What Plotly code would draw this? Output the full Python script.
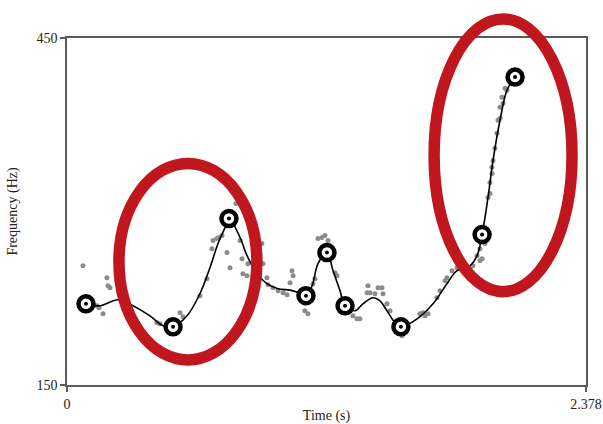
import plotly.graph_objects as go

# Axis settings
T_MAX = 2.378
F_MIN, F_MAX = 150, 450
x_tickvals = [0, 2.378]
x_ticktext = ["0", "2.378"]
y_tickvals = [150, 450]
y_ticktext = ["150", "450"]

# Raw pitch samples (gray dots)
raw_t = [0.073, 0.137, 0.147, 0.165, 0.183, 0.188, 0.197, 0.412, 0.426, 0.518, 0.532,
         0.609, 0.641, 0.664, 0.669, 0.687, 0.696, 0.710, 0.733, 0.747, 0.774, 0.793,
         0.802, 0.806, 0.825, 0.829, 0.893, 0.898, 0.916, 0.921, 0.944, 0.967, 0.990,
         1.008, 1.031, 1.036, 1.022, 1.090, 1.104, 1.127, 1.136, 1.150, 1.168, 1.182,
         1.196, 1.228, 1.237, 1.310, 1.329, 1.342, 1.379, 1.375, 1.388, 1.411, 1.425,
         1.443, 1.448, 1.466, 1.480, 1.535, 1.617, 1.631, 1.640, 1.654, 1.695, 1.709,
         1.732, 1.741, 1.764, 1.787, 1.847, 1.860, 1.879, 1.892, 1.906, 1.892, 1.902,
         1.915, 1.929, 1.938, 1.938, 1.947, 1.947, 1.952, 1.961, 1.970, 1.975, 1.984,
         1.984, 1.993, 1.998, 2.007, 2.016]
raw_f = [253.2, 218.5, 216.8, 211.6, 242.8, 235.8, 234.1, 203.8, 202.9, 212.4, 209.0,
         227.2, 241.9, 267.9, 274.9, 276.6, 277.5, 279.2, 264.5, 251.4, 306.9, 274.9,
         259.2, 246.2, 244.5, 254.9, 272.3, 254.9, 242.8, 236.7, 234.1, 231.5, 229.8,
         228.0, 248.8, 244.5, 238.4, 214.2, 211.6, 237.6, 241.9, 276.6, 277.5, 279.2,
         274.9, 247.1, 244.5, 209.8, 207.2, 207.2, 235.8, 229.8, 229.8, 228.9, 234.1,
         234.1, 228.9, 220.2, 214.2, 192.5, 211.6, 212.4, 209.8, 211.6, 225.4, 231.5,
         240.2, 242.8, 248.8, 251.4, 250.6, 253.2, 261.8, 267.9, 274.9, 257.5, 259.2,
         272.3, 312.1, 325.1, 315.6, 338.2, 332.9, 344.2, 354.6, 367.6, 378.9, 380.6,
         390.2, 398.8, 393.6, 406.6, 404.9]

# Smoothed pitch contour (black line)
curve_t = [0.087, 0.151, 0.234, 0.302, 0.380, 0.440, 0.486, 0.550, 0.609, 0.655, 0.692,
           0.724, 0.742, 0.793, 0.825, 0.871, 0.916, 0.967, 1.022, 1.060, 1.095, 1.123,
           1.150, 1.191, 1.219, 1.251, 1.274, 1.320, 1.356, 1.402, 1.434, 1.466, 1.503,
           1.530, 1.604, 1.677, 1.741, 1.787, 1.847, 1.879, 1.902, 1.929, 1.952, 1.984,
           2.016, 2.053]
curve_f = [220.2, 218.5, 223.7, 218.5, 209.8, 201.2, 200.3, 209.8, 228.9, 251.4, 272.3,
           286.1, 293.9, 277.5, 261.8, 246.2, 237.6, 233.2, 232.0, 229.8, 227.2, 235.8,
           254.9, 264.5, 248.8, 231.5, 218.5, 214.2, 220.2, 225.4, 222.8, 214.2, 203.8,
           200.3, 207.2, 220.2, 237.6, 248.8, 253.2, 261.8, 280.1, 312.1, 344.2, 378.9,
           404.9, 416.2]

# Tonal targets (ringed points)
target_t = [0.087, 0.486, 0.742, 1.095, 1.191, 1.274, 1.530, 1.902, 2.053]
target_f = [220.2, 200.3, 293.9, 227.2, 264.5, 218.5, 200.3, 280.1, 416.2]

# Highlight ellipses: centre (time, Hz) and half-sizes (s, Hz)
ell_center_t = [0.554, 1.998]
ell_center_f = [256.6, 348.6]
ell_half_t = [0.316, 0.316]
ell_half_f = [85.0, 117.9]

FONT = "Liberation Serif"
fig = go.Figure()

fig.add_trace(go.Scatter(x=raw_t, y=raw_f, mode="markers",
                         marker=dict(color="#8c8c8c", size=5), hoverinfo="skip"))
fig.add_trace(go.Scatter(x=curve_t, y=curve_f, mode="lines",
                         line=dict(color="black", width=1.6, shape="spline", smoothing=1.0)))
fig.add_trace(go.Scatter(x=target_t, y=target_f, mode="markers",
                         marker=dict(color="white", size=15, line=dict(color="black", width=4.5))))
fig.add_trace(go.Scatter(x=target_t, y=target_f, mode="markers",
                         marker=dict(color="black", size=4)))

def xp(t):
    return t / T_MAX

def yp(f):
    return (f - F_MIN) / (F_MAX - F_MIN)

for ct, cf, ht, hf in zip(ell_center_t, ell_center_f, ell_half_t, ell_half_f):
    fig.add_shape(type="circle", xref="paper", yref="paper",
                  x0=xp(ct - ht), x1=xp(ct + ht), y0=yp(cf - hf), y1=yp(cf + hf),
                  line=dict(color="#c0171e", width=11.5), layer="above")

axis_common = dict(showline=True, linecolor="#5a5a5a", linewidth=1.5, mirror=True,
                   ticks="outside", ticklen=5, tickcolor="#5a5a5a", tickwidth=1.5,
                   showgrid=False, zeroline=False, automargin=False,
                   tickfont=dict(family=FONT, size=14, color="#222222"))

fig.update_layout(
    width=603, height=424,
    margin=dict(l=67, r=17, t=38, b=39),
    paper_bgcolor="white", plot_bgcolor="white",
    showlegend=False,
    font=dict(family=FONT, size=14, color="#222222"),
    xaxis=dict(range=[0, T_MAX], tickvals=x_tickvals, ticktext=x_ticktext,
               title=dict(text="Time (s)", standoff=3, font=dict(family=FONT, size=14)),
               **axis_common),
    yaxis=dict(range=[F_MIN, F_MAX], tickvals=y_tickvals, ticktext=y_ticktext,
               title=dict(text="Frequency (Hz)", standoff=16, font=dict(family=FONT, size=14)),
               **axis_common),
)

fig.write_html("out.html", config={"displayModeBar": False},
               post_script="document.body.style.margin='0px';")
